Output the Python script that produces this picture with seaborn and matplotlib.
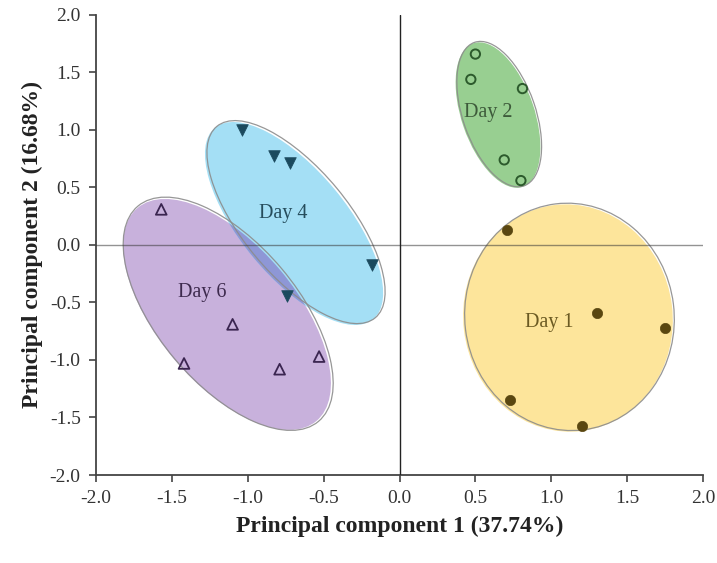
import numpy as np
import pandas as pd
import matplotlib
matplotlib.use("Agg")
import matplotlib.pyplot as plt
import seaborn as sns
from matplotlib.patches import Ellipse
from matplotlib.transforms import Affine2D

# ---- data ----
day1_x = [0.71, 1.30, 1.75, 0.73, 1.20]
day1_y = [0.13, -0.59, -0.72, -1.35, -1.57]
day2_x = [0.50, 0.47, 0.81, 0.69, 0.80]
day2_y = [1.66, 1.44, 1.36, 0.74, 0.56]
day4_x = [-1.04, -0.83, -0.72, -0.18, -0.74]
day4_y = [1.00, 0.77, 0.71, -0.17, -0.44]
day6_x = [-1.57, -1.42, -1.10, -0.79, -0.53]
day6_y = [0.31, -1.03, -0.69, -1.08, -0.97]

groups = ["Day 1", "Day 2", "Day 4", "Day 6"]
ticks = [-2.0, -1.5, -1.0, -0.5, 0.0, 0.5, 1.0, 1.5, 2.0]
xlabel = "Principal component 1 (37.74%)"
ylabel = "Principal component 2 (16.68%)"

df = pd.concat([
    pd.DataFrame({"x": day1_x, "y": day1_y, "g": "Day 1"}),
    pd.DataFrame({"x": day2_x, "y": day2_y, "g": "Day 2"}),
    pd.DataFrame({"x": day4_x, "y": day4_y, "g": "Day 4"}),
    pd.DataFrame({"x": day6_x, "y": day6_y, "g": "Day 6"}),
])

sns.set_style("white")
plt.rcParams["font.family"] = ["Liberation Serif", "DejaVu Serif"]

fig = plt.figure(figsize=(7.17, 5.63), dpi=100)
ax = fig.add_axes([0.1339, 0.1563, 0.8466, 0.8171])
ax.set_xlim(-2, 2)
ax.set_ylim(-2, 2)

# aspect factor: pixels per y-unit / pixels per x-unit
k = (0.8171 * 563 / 4) / (0.8466 * 717 / 4)
tr = Affine2D().scale(1, 1 / k) + ax.transData

# ellipse styles: (center x, center y, major, minor, angle, fill)
ell = {
    "Day 1": (1.110, -0.635, 1.50, 1.38, 97, "#fde59b"),
    "Day 2": (0.649, 1.130, 1.00, 0.48, 109, "#98cf91"),
    "Day 4": (-0.695, 0.187, 1.637, 0.699, 129.6, "#a4dff5"),
    "Day 6": (-1.137, -0.604, 1.833, 0.913, 130, "#c8b1dc"),
}
outline = {"Day 1": (0.010, 0.010, 1.0), "Day 2": (0.008, 0.008, 1.0),
           "Day 4": (0.013, 0.012, 1.0), "Day 6": (0.008, 0.006, 1.01)}

patches = {}
for g in ["Day 1", "Day 2", "Day 6", "Day 4"]:
    cx, cy, w, h, a, c = ell[g]
    e = Ellipse((cx, cy * k), w, h, angle=a, facecolor=c, edgecolor="none",
                transform=tr, zorder=2)
    ax.add_patch(e)
    patches[g] = e

# overlap of Day 4 and Day 6 (darker, as in the reference)
cx, cy, w, h, a, c = ell["Day 4"]
ov = Ellipse((cx, cy * k), w, h, angle=a, facecolor="#8e97d6", edgecolor="none",
             transform=tr, zorder=2.5)
ax.add_patch(ov)
ov.set_clip_path(patches["Day 6"])

for g in groups:
    cx, cy, w, h, a, c = ell[g]
    dx, dy, sc = outline[g]
    o = Ellipse((cx + dx, (cy + dy) * k), w * sc, h * sc, angle=a,
                facecolor="none", edgecolor="#8c8c8c", lw=0.9, alpha=0.9,
                transform=tr, zorder=3)
    ax.add_patch(o)

ax.axhline(0, color="#3a3a3a", lw=1.0, alpha=0.55, zorder=3.5)
ax.axvline(0, color="#222222", lw=1.0, zorder=3.5)

d = df[df.g == "Day 1"]
sns.scatterplot(data=d, x="x", y="y", ax=ax, marker="o", s=55,
                color="#5a4710", edgecolor="#5a4710", linewidth=0.5, zorder=5)
d = df[df.g == "Day 2"]
sns.scatterplot(data=d, x="x", y="y", ax=ax, marker="o", s=45,
                facecolor="none", edgecolor="#2c5a2c", linewidth=1.4, zorder=5)
d = df[df.g == "Day 4"]
sns.scatterplot(data=d, x="x", y="y", ax=ax, marker="v", s=70,
                color="#1b4a5e", edgecolor="#1b4a5e", linewidth=0.5, zorder=5)
d = df[df.g == "Day 6"]
sns.scatterplot(data=d, x="x", y="y", ax=ax, marker="^", s=60,
                facecolor="none", edgecolor="#3a2550", linewidth=1.3, zorder=5)

# group labels
lab = {"Day 1": (0.985, -0.67, "#6b5a22"), "Day 2": (0.583, 1.148, "#3d5a3a"),
       "Day 4": (-0.768, 0.27, "#264d5c"), "Day 6": (-1.30, -0.417, "#3d2a4d")}
for g in groups:
    x, y, c = lab[g]
    ax.text(x, y, g, color=c, fontsize=14.5, ha="center", va="center", zorder=6)

ax.set_xticks(ticks)
ax.set_yticks(ticks)
ax.set_xticklabels([f"{t:.1f}" for t in ticks])
ax.set_yticklabels([f"{t:.1f}" for t in ticks])
ax.tick_params(axis="both", direction="out", length=5, width=1.2,
               color="#444444", labelsize=14, labelcolor="#333333", pad=6,
               left=True, bottom=True)
ax.set_xlabel(xlabel, fontsize=17, fontweight="bold", labelpad=6, color="#222222")
ax.set_ylabel(ylabel, fontsize=17, fontweight="bold", labelpad=5, color="#222222")

for s in ["top", "right"]:
    ax.spines[s].set_visible(False)
for s in ["left", "bottom"]:
    ax.spines[s].set_color("#444444")
    ax.spines[s].set_linewidth(1.3)

fig.savefig("out.png", dpi=100)
